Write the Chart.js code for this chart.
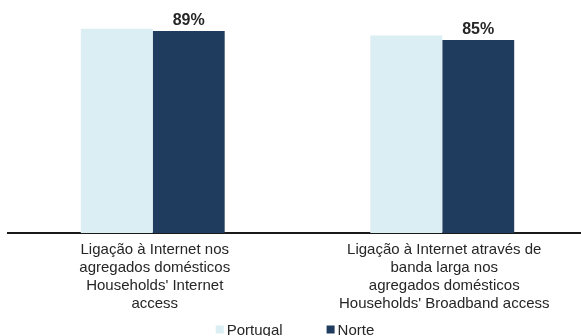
<!DOCTYPE html>
<html>
<head>
<meta charset="utf-8">
<script src="https://cdn.jsdelivr.net/npm/chart.js@4.4.0/dist/chart.umd.min.js"></script>
<style>
  html, body { margin: 0; padding: 0; background: #fff; overflow: hidden; }
  #wrap { width: 590px; height: 336px; }
</style>
</head>
<body>
<div id="wrap"><canvas id="chart"></canvas></div>
<script>
const categories = [
  ["Ligação à Internet nos", "agregados domésticos", "Households' Internet", "access"],
  ["Ligação à Internet através de", "banda larga nos", "agregados domésticos", "Households' Broadband access"],
];
const seriesNames = ["Portugal", "Norte"];
const portugalValues = [90, 87];
const norteValues = [89, 85];

const colors = ["#DAEEF3", "#1F3B5E"];
const FONT = "'Liberation Sans', Arial, sans-serif";
const TEXT = "#262626";

// value labels, category labels and legend drawn by hand to match the Excel layout
const annotate = {
  id: "annotate",
  afterDatasetsDraw(chart) {
    const ctx = chart.ctx;
    const xScale = chart.scales.x;
    ctx.save();
    ctx.fillStyle = TEXT;
    ctx.textAlign = "center";
    ctx.textBaseline = "alphabetic";

    ctx.font = "bold 16px " + FONT;
    chart.getDatasetMeta(1).data.forEach((bar, i) => {
      ctx.fillText(norteValues[i] + "%", bar.x, bar.y - 6);
    });

    ctx.font = "15px " + FONT;
    categories.forEach((lines, i) => {
      const x = xScale.getPixelForValue(i) + 2;
      lines.forEach((line, j) => {
        ctx.fillText(line, x, xScale.top + 21 + j * 18);
      });
    });

    // legend
    const box = 8, gap = 3, spacing = 44;
    const widths = seriesNames.map((n) => box + gap + ctx.measureText(n).width);
    const total = widths.reduce((a, b) => a + b, 0) + spacing * (widths.length - 1);
    let x = chart.width / 2 - total / 2;
    const boxTop = xScale.top + 92.5;
    ctx.textAlign = "left";
    seriesNames.forEach((name, i) => {
      ctx.fillStyle = colors[i];
      ctx.fillRect(x, boxTop, box, box);
      ctx.fillStyle = TEXT;
      ctx.fillText(name, x + box + gap, boxTop + 9);
      x += widths[i] + spacing;
    });
    ctx.restore();
  },
};

new Chart(document.getElementById("chart").getContext("2d"), {
  type: "bar",
  data: {
    labels: categories,
    datasets: [
      { label: seriesNames[0], data: portugalValues, backgroundColor: colors[0] },
      { label: seriesNames[1], data: norteValues, backgroundColor: colors[1] },
    ],
  },
  options: {
    responsive: true,
    maintainAspectRatio: false,
    animation: false,
    layout: { padding: { left: 8, right: 3, top: 6, bottom: 103 } },
    datasets: {
      bar: { categoryPercentage: 0.497, barPercentage: 1.0, borderWidth: 0 },
    },
    scales: {
      x: {
        grid: { display: false, drawTicks: false },
        ticks: { display: false },
        border: { display: true, color: "#1a1a1a", width: 2 },
      },
      y: {
        display: false,
        min: 0,
        max: 100,
      },
    },
    plugins: {
      legend: { display: false },
      tooltip: { enabled: false },
    },
  },
  plugins: [annotate],
});
</script>
</body>
</html>
